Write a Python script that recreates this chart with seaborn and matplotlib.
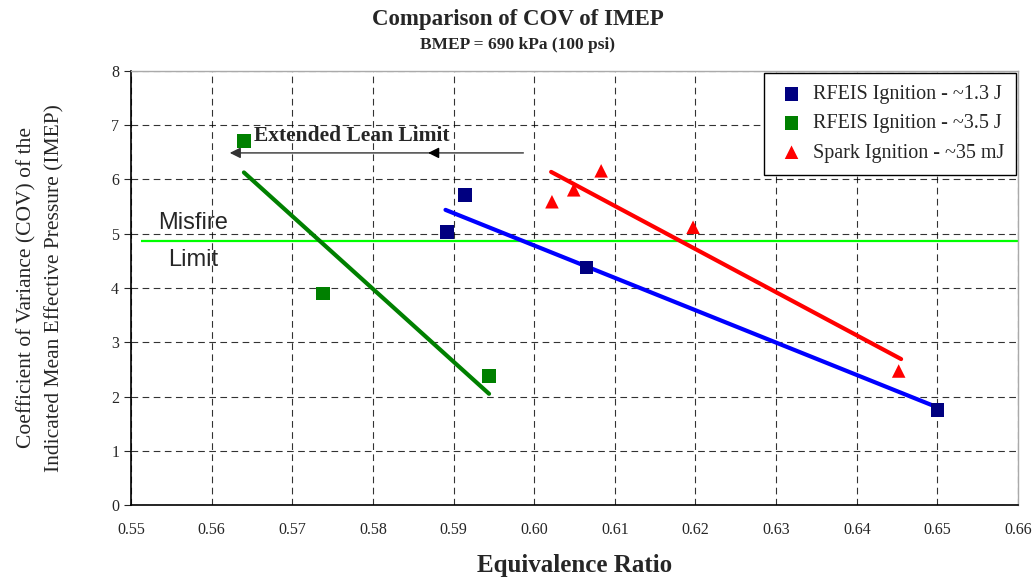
import numpy as np
import pandas as pd
import matplotlib
matplotlib.use("Agg")
import matplotlib.pyplot as plt
import seaborn as sns

# measured points
RF13_X = [0.5892, 0.5914, 0.6065, 0.6500]
RF13_Y = [5.03, 5.71, 4.38, 1.75]
RF35_X = [0.5640, 0.5738, 0.5944]
RF35_Y = [6.71, 3.90, 2.38]
SPARK_X = [0.6022, 0.6049, 0.6083, 0.6197, 0.6452]
SPARK_Y = [5.59, 5.81, 6.16, 5.12, 2.47]

# trend lines (end points)
RF13_TREND_X = [0.5890, 0.6500]
RF13_TREND_Y = [5.44, 1.80]
RF35_TREND_X = [0.5640, 0.5944]
RF35_TREND_Y = [6.13, 2.05]
SPARK_TREND_X = [0.6021, 0.6455]
SPARK_TREND_Y = [6.14, 2.69]

MISFIRE_LIMIT = 4.87
LEAN_ARROW_X = [0.5990, 0.5619]
LEAN_ARROW_Y = 6.49

X_TICKS = [0.55, 0.56, 0.57, 0.58, 0.59, 0.60, 0.61, 0.62, 0.63, 0.64, 0.65, 0.66]
Y_TICKS = [0, 1, 2, 3, 4, 5, 6, 7, 8]

LABELS = ["RFEIS Ignition - ~1.3 J", "RFEIS Ignition - ~3.5 J", "Spark Ignition - ~35 mJ"]

sns.set_style("white")
plt.rcParams["font.family"] = ["Liberation Serif", "DejaVu Serif"]

fig = plt.figure(figsize=(10.35, 5.8), dpi=100)
ax = fig.add_axes([0.1266, 0.1293, 0.857, 0.7483])

series = [
    (RF13_X, RF13_Y, "#000080", "s", LABELS[0]),
    (RF35_X, RF35_Y, "#008000", "s", LABELS[1]),
    (SPARK_X, SPARK_Y, "#FF0000", "^", LABELS[2]),
]
trends = [
    (RF13_TREND_X, RF13_TREND_Y, "#0000FF"),
    (RF35_TREND_X, RF35_TREND_Y, "#008000"),
    (SPARK_TREND_X, SPARK_TREND_Y, "#FF0000"),
]

for tx, ty, c in trends:
    sns.lineplot(x=tx, y=ty, color=c, linewidth=3, ax=ax, legend=False, zorder=3)

for xs, ys, c, m, lab in series:
    sns.scatterplot(x=xs, y=ys, color=c, marker=m, s=95, edgecolor="none",
                    label=lab, ax=ax, zorder=4)

ax.hlines(MISFIRE_LIMIT, 0.5512, 0.66, color="#00FF00", linewidth=1.6, zorder=2)
ax.text(0.5533, 5.20, "Misfire", fontsize=17, family="Liberation Sans", va="center")
ax.text(0.5546, 4.52, "Limit", fontsize=17, family="Liberation Sans", va="center")

# extended lean limit arrow
ax.annotate("", xy=(LEAN_ARROW_X[1], LEAN_ARROW_Y), xytext=(LEAN_ARROW_X[0], LEAN_ARROW_Y),
            arrowprops=dict(arrowstyle="-|>", color="#333333", lw=1, mutation_scale=16))
ax.annotate("", xy=(0.5865, LEAN_ARROW_Y), xytext=(0.5880, LEAN_ARROW_Y),
            arrowprops=dict(arrowstyle="-|>", color="black", lw=1, mutation_scale=16))
ax.text(0.5652, 6.80, "Extended Lean Limit", fontsize=15.5, fontweight="bold", va="center")

ax.set_xlim(0.55, 0.66)
ax.set_ylim(0, 8)
ax.set_xticks(X_TICKS)
ax.set_yticks(Y_TICKS)
ax.set_xticklabels([f"{t:.2f}" for t in X_TICKS])
ax.tick_params(axis="x", direction="inout", length=8, labelsize=11.5, pad=8)
ax.tick_params(axis="y", direction="out", length=5, labelsize=11.5, left=True)
ax.grid(True, color="black", linestyle=(0, (6, 4)), linewidth=0.8, alpha=0.8)

for side in ["top", "right"]:
    ax.spines[side].set_color("#aaaaaa")
    ax.spines[side].set_linewidth(1)
for side in ["left", "bottom"]:
    ax.spines[side].set_color("black")
    ax.spines[side].set_linewidth(1.2)

ax.set_xlabel("Equivalence Ratio", fontsize=18, fontweight="bold", labelpad=12)
ax.set_ylabel("Coefficient of Variance (COV) of the\nIndicated Mean Effective Pressure (IMEP)",
              fontsize=15.5, labelpad=34, linespacing=1.55)

fig.text(0.5, 0.966, "Comparison of COV of IMEP", ha="center", va="center",
         fontsize=16.5, fontweight="bold")
fig.text(0.5, 0.923, "BMEP = 690 kPa (100 psi)", ha="center", va="center",
         fontsize=12.5, fontweight="bold")

leg = ax.legend(loc="upper right", fontsize=14.5, frameon=True, fancybox=False,
                borderpad=0.6, labelspacing=0.5, handletextpad=0.3,
                handlelength=1.5, borderaxespad=0.1)
leg.get_frame().set_edgecolor("black")
leg.get_frame().set_linewidth(1)
leg.get_frame().set_alpha(1)

fig.savefig("out.png", dpi=100)
